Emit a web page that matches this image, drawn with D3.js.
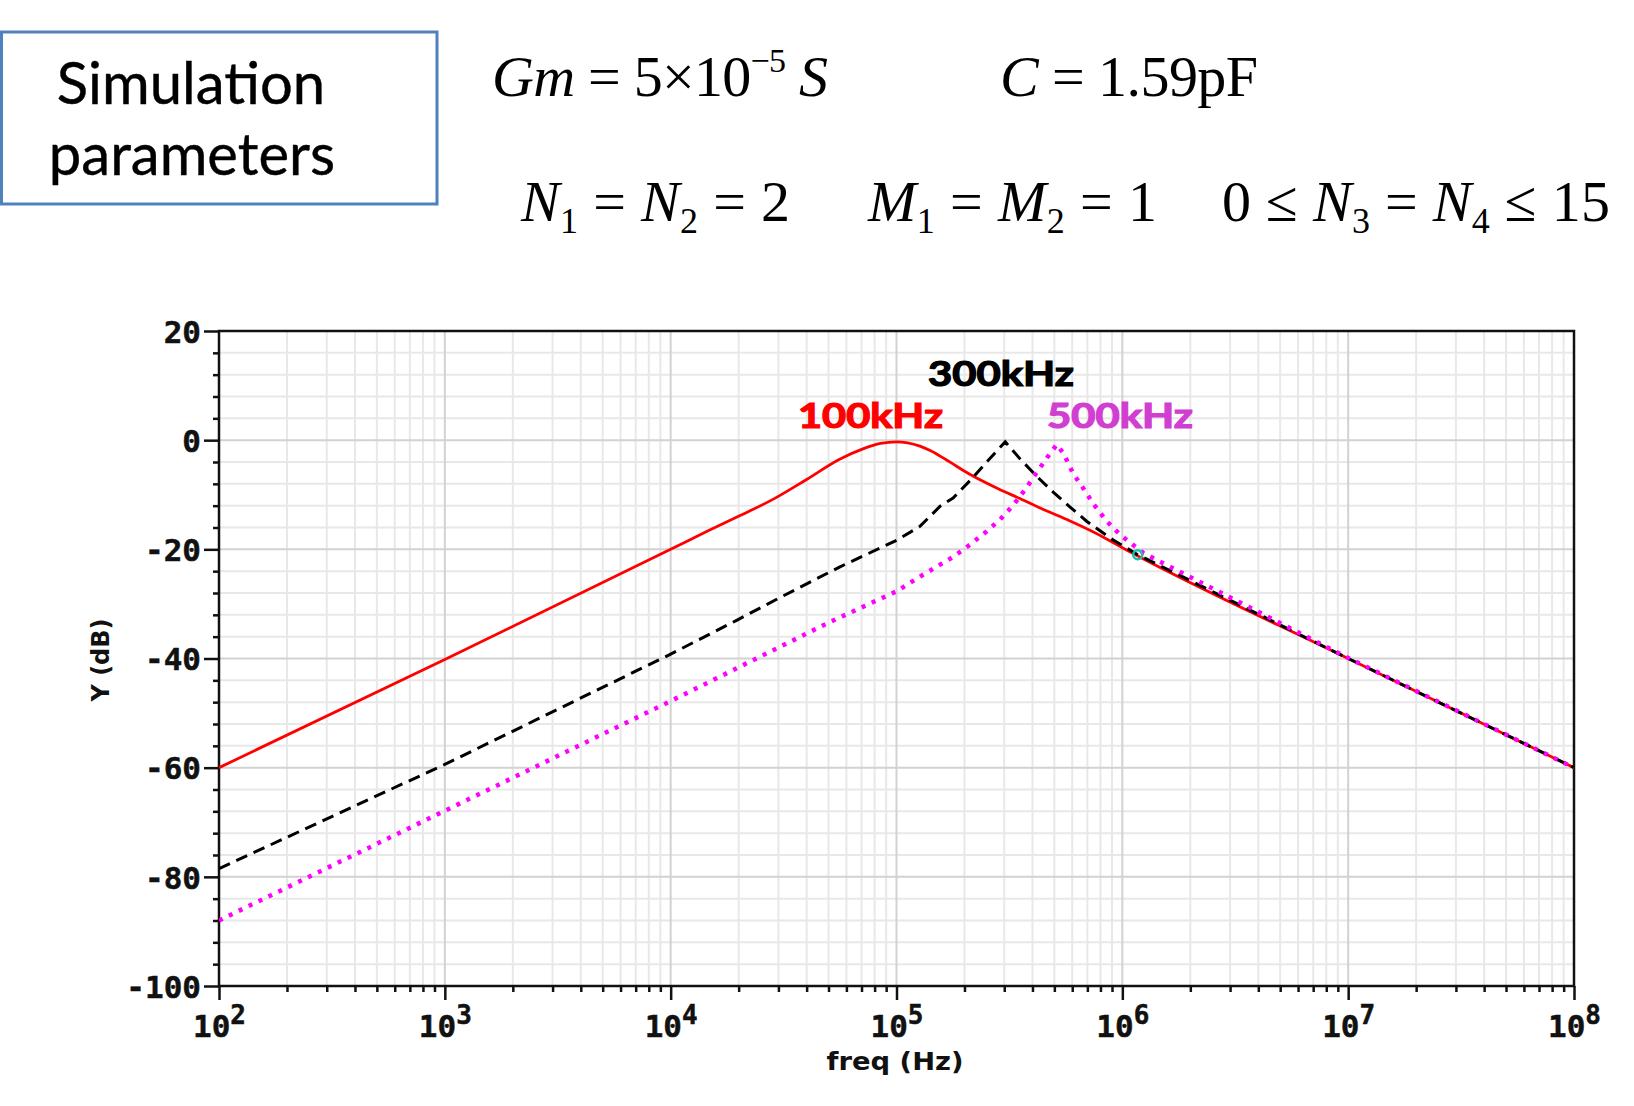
<!DOCTYPE html>
<html>
<head>
<meta charset="utf-8">
<script src="https://cdn.jsdelivr.net/npm/d3@7"></script>
<style>
  html, body { margin: 0; padding: 0; background: #ffffff; }
  svg { display: block; }
</style>
</head>
<body>
<svg id="chart" width="1634" height="1106"></svg>
<script>
// ---------------- DATA ----------------
const yMajorTicks = [-100, -80, -60, -40, -20, 0, 20];
const yMinorTicks = [-96, -92, -88, -84, -76, -72, -68, -64, -56, -52, -48, -44, -36, -32, -28, -24, -16, -12, -8, -4, 4, 8, 12, 16];
const xDecadeExponents = [2, 3, 4, 5, 6, 7, 8];

// 100 kHz (red, solid)
const redFreq = [100, 1000, 10000, 14500, 20300, 28500, 40000, 56000, 71000, 85000, 100000, 112000, 127000, 141000, 166000, 212000, 282000, 352000, 447000, 587000, 760000, 1000000, 10000000, 100000000];
const redDb   = [-60, -40.2, -20, -16.7, -13.8, -10.8, -7.2, -3.5, -1.6, -0.6, -0.3, -0.5, -1.1, -1.9, -3.6, -6.3, -8.9, -10.7, -12.7, -14.8, -17.0, -19.7, -40, -60];

// 300 kHz (black, dashed)
const blackFreq = [100, 1000, 10000, 19600, 31600, 56200, 98400, 127000, 156000, 178000, 214000, 251000, 303000, 352000, 417000, 494000, 589000, 697000, 912000, 1160000, 10000000, 100000000];
const blackDb   = [-78.5, -59.4, -39.2, -33.0, -28.5, -23.2, -18.5, -15.8, -12.1, -10.6, -7.2, -4.0, -0.3, -3.4, -6.6, -9.5, -12.3, -14.9, -18.3, -20.9, -40, -60];

// 500 kHz (magenta, dotted)
const magFreq = [100, 1000, 10000, 50800, 100000, 127000, 156000, 178000, 214000, 251000, 288000, 329000, 372000, 418000, 468000, 513000, 550000, 607000, 676000, 745000, 851000, 977000, 1242000, 10000000, 100000000];
const magDb   = [-88, -67.9, -47.8, -33.3, -27.7, -25.0, -22.8, -21.4, -19.0, -16.7, -14.5, -11.9, -9.0, -5.9, -3.0, -0.8, -2.5, -6.2, -9.0, -11.7, -14.8, -17.3, -20.7, -39.9, -60];

const peakLabels = ["100kHz", "300kHz", "500kHz"];
const markerFreq = [1170000];
const markerDb = [-21];

// ---------------- LAYOUT ----------------
const svg = d3.select("#chart");
const X0 = 219, X1 = 1574, Y0 = 986, Y1 = 331;
const x = d3.scaleLog().domain([1e2, 1e8]).range([X0, X1]);
const y = d3.scaleLinear().domain([-100, 20]).range([Y0, Y1]);

// ---------- Header: parameter box ----------
svg.append("rect").attr("x", 1.5).attr("y", 32).attr("width", 435.5).attr("height", 172)
  .attr("fill", "none").attr("stroke", "#4f81bd").attr("stroke-width", 3);
const boxText = svg.append("text").attr("font-family", "Lato, 'Open Sans', sans-serif")
  .attr("font-size", 58).attr("fill", "#000").attr("text-anchor", "middle")
  .attr("stroke", "#000").attr("stroke-width", 0.4);
boxText.append("tspan").attr("x", 191).attr("y", 104).text("Simulation");
boxText.append("tspan").attr("x", 192).attr("y", 175).text("parameters");

// ---------- Header: equations ----------
function eq(xPos, yPos, width, parts) {
  const t = svg.append("text").attr("x", xPos).attr("y", yPos)
    .attr("font-family", "'Liberation Serif', 'Times New Roman', serif")
    .attr("font-size", 58).attr("fill", "#000")
    .attr("textLength", width).attr("lengthAdjust", "spacing");
  parts.forEach(p => {
    const s = t.append("tspan").text(p.t);
    if (p.i) s.attr("font-style", "italic");
    if (p.fs) s.attr("font-size", p.fs);
    if (p.dy) s.attr("dy", p.dy);
  });
}
eq(492, 96, 336, [
  {t: "Gm", i: true}, {t: " = 5×10"}, {t: "−5", fs: 34, dy: -24}, {t: " S", i: true, dy: 24}
]);
eq(1000, 96, 258, [
  {t: "C", i: true}, {t: " = 1.59pF"}
]);
eq(521, 221, 269, [
  {t: "N", i: true}, {t: "1", fs: 36, dy: 12}, {t: " = ", dy: -12}, {t: "N", i: true},
  {t: "2", fs: 36, dy: 12}, {t: " = 2", dy: -12}
]);
eq(868, 221, 289, [
  {t: "M", i: true}, {t: "1", fs: 36, dy: 12}, {t: " = ", dy: -12}, {t: "M", i: true},
  {t: "2", fs: 36, dy: 12}, {t: " = 1", dy: -12}
]);
eq(1222, 221, 388, [
  {t: "0 ≤ "}, {t: "N", i: true}, {t: "3", fs: 36, dy: 12}, {t: " = ", dy: -12}, {t: "N", i: true},
  {t: "4", fs: 36, dy: 12}, {t: " ≤ 15", dy: -12}
]);

// ---------- Grid ----------
const grid = svg.append("g");
const xMinor = [];
xDecadeExponents.slice(0, -1).forEach(e => { for (let m = 2; m <= 9; m++) xMinor.push(m * Math.pow(10, e)); });
grid.selectAll("line.xmin").data(xMinor).join("line")
  .attr("x1", d => x(d)).attr("x2", d => x(d)).attr("y1", Y1).attr("y2", Y0)
  .attr("stroke", "#e8e8e8").attr("stroke-width", 2);
grid.selectAll("line.ymin").data(yMinorTicks).join("line")
  .attr("x1", X0).attr("x2", X1).attr("y1", d => y(d)).attr("y2", d => y(d))
  .attr("stroke", "#e8e8e8").attr("stroke-width", 2);
grid.selectAll("line.xmaj").data(xDecadeExponents.map(e => Math.pow(10, e))).join("line")
  .attr("x1", d => x(d)).attr("x2", d => x(d)).attr("y1", Y1).attr("y2", Y0)
  .attr("stroke", "#d2d2d2").attr("stroke-width", 2);
grid.selectAll("line.ymaj").data(yMajorTicks).join("line")
  .attr("x1", X0).attr("x2", X1).attr("y1", d => y(d)).attr("y2", d => y(d))
  .attr("stroke", "#d2d2d2").attr("stroke-width", 2);

// ---------- Axes ----------
const tickFont = "'DejaVu Sans Mono', monospace";
const yAxis = svg.append("g").attr("transform", `translate(${X0},0)`)
  .call(d3.axisLeft(y).tickValues(yMajorTicks).tickSize(15).tickSizeOuter(0).tickPadding(3)
    .tickFormat(d => d < 0 ? "-" + Math.abs(d) : String(d)));
yAxis.select(".domain").remove();
yAxis.selectAll(".tick line").attr("stroke", "#111").attr("stroke-width", 2.5);
yAxis.selectAll(".tick text").attr("font-family", tickFont).attr("font-weight", "bold")
  .attr("font-size", 31).attr("fill", "#111").attr("dy", "0.36em")
  .attr("stroke", "#111").attr("stroke-width", 0.5);

const yAxisMinor = svg.append("g").attr("transform", `translate(${X0},0)`)
  .call(d3.axisLeft(y).tickValues(yMinorTicks).tickSize(6).tickSizeOuter(0).tickFormat(""));
yAxisMinor.select(".domain").remove();
yAxisMinor.selectAll(".tick line").attr("stroke", "#111").attr("stroke-width", 2.5);

const xAxis = svg.append("g").attr("transform", `translate(0,${Y0})`)
  .call(d3.axisBottom(x).tickValues(xDecadeExponents.map(e => Math.pow(10, e))).tickSize(14).tickSizeOuter(0).tickFormat(""));
xAxis.select(".domain").remove();
xAxis.selectAll(".tick line").attr("stroke", "#111").attr("stroke-width", 2.5);
xAxis.selectAll(".tick").each(function(d) {
  const t = d3.select(this).append("text")
    .attr("y", 51).attr("text-anchor", "middle").attr("fill", "#111")
    .attr("stroke", "#111").attr("stroke-width", 0.5)
    .attr("font-family", tickFont).attr("font-weight", "bold").attr("font-size", 31);
  t.append("tspan").text("10");
  t.append("tspan").attr("font-size", 26).attr("dy", -13).text(String(Math.round(Math.log10(d))));
});

const xAxisMinor = svg.append("g").attr("transform", `translate(0,${Y0})`)
  .call(d3.axisBottom(x).tickValues(xMinor).tickSize(6).tickSizeOuter(0).tickFormat(""));
xAxisMinor.select(".domain").remove();
xAxisMinor.selectAll(".tick line").attr("stroke", "#111").attr("stroke-width", 2.5);

// frame
svg.append("rect").attr("x", X0).attr("y", Y1).attr("width", X1 - X0).attr("height", Y0 - Y1)
  .attr("fill", "none").attr("stroke", "#111").attr("stroke-width", 2.5);

// axis titles
svg.append("text").attr("transform", "translate(109,660) rotate(-90)").attr("text-anchor", "middle")
  .attr("font-family", "'DejaVu Sans', sans-serif").attr("font-weight", "bold").attr("font-size", 24).attr("fill", "#111")
  .text("Y (dB)");
svg.append("text").attr("x", 895).attr("y", 1070).attr("text-anchor", "middle")
  .attr("font-family", "'DejaVu Sans', sans-serif").attr("font-weight", "bold").attr("font-size", 25).attr("fill", "#111")
  .attr("textLength", 137).attr("lengthAdjust", "spacingAndGlyphs")
  .text("freq (Hz)");

// ---------- Curves ----------
svg.append("clipPath").attr("id", "plotclip").append("rect")
  .attr("x", X0).attr("y", Y1).attr("width", X1 - X0).attr("height", Y0 - Y1);
const plot = svg.append("g").attr("clip-path", "url(#plotclip)");
function series(fr, db) { return fr.map((f, i) => [f, db[i]]); }

plot.append("path").datum(series(redFreq, redDb))
  .attr("d", d3.line().x(d => x(d[0])).y(d => y(d[1])).curve(d3.curveMonotoneX))
  .attr("fill", "none").attr("stroke", "#ff0000").attr("stroke-width", 2.8);
plot.append("path").datum(series(blackFreq, blackDb))
  .attr("d", d3.line().x(d => x(d[0])).y(d => y(d[1])))
  .attr("fill", "none").attr("stroke", "#000").attr("stroke-width", 3)
  .attr("stroke-dasharray", "12,7");
plot.append("path").datum(series(magFreq, magDb))
  .attr("d", d3.line().x(d => x(d[0])).y(d => y(d[1])))
  .attr("fill", "none").attr("stroke", "#ff00ff").attr("stroke-width", 4.5)
  .attr("stroke-dasharray", "4,7");

// small marker
plot.selectAll("circle.mk").data(markerFreq).join("circle")
  .attr("cx", d => x(d)).attr("cy", (d, i) => y(markerDb[i])).attr("r", 4.5)
  .attr("fill", "none").attr("stroke", "#19c0b0").attr("stroke-width", 2.5);

// ---------- Peak annotations ----------
const labelFont = "Lato, 'Open Sans', sans-serif";
const ann = [
  {t: peakLabels[0], x: 798, y: 428, w: 145, c: "#ff0000"},
  {t: peakLabels[1], x: 928, y: 386, w: 146, c: "#000000"},
  {t: peakLabels[2], x: 1047, y: 428, w: 146, c: "#d13fd1"}
];
svg.selectAll("text.ann").data(ann).join("text")
  .attr("x", d => d.x).attr("y", d => d.y).attr("fill", d => d.c)
  .attr("stroke", d => d.c).attr("stroke-width", 1.2)
  .attr("font-family", labelFont).attr("font-weight", "bold").attr("font-size", 34)
  .attr("textLength", d => d.w).attr("lengthAdjust", "spacingAndGlyphs")
  .text(d => d.t);
</script>
</body>
</html>
